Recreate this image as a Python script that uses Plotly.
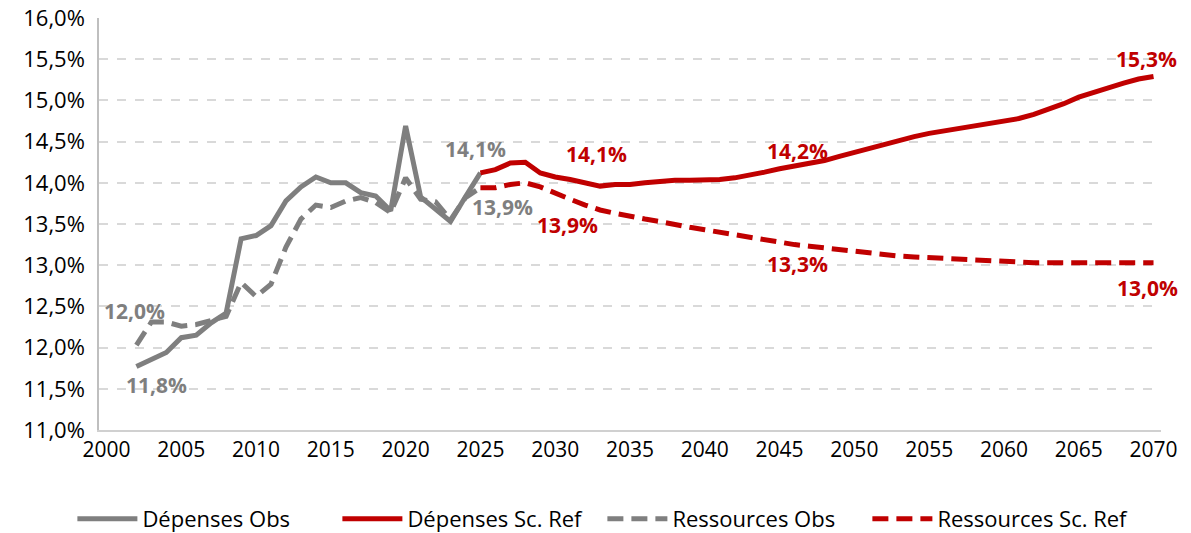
import plotly.graph_objects as go

# ---- data ----
years_obs = list(range(2002, 2026))
depenses_obs = [11.77, 11.86, 11.94, 12.12, 12.15, 12.30, 12.42, 13.32, 13.36, 13.48,
                13.78, 13.95, 14.07, 14.00, 14.00, 13.88, 13.84, 13.66, 14.69, 13.83,
                13.67, 13.53, 13.83, 14.12]
ressources_obs = [12.03, 12.31, 12.31, 12.26, 12.28, 12.33, 12.38, 12.79, 12.62, 12.77,
                  13.22, 13.56, 13.73, 13.70, 13.78, 13.82, 13.76, 13.64, 14.06, 13.80,
                  13.77, 13.55, 13.82, 13.94]

years_proj = list(range(2025, 2071))
depenses_ref = [14.12, 14.16, 14.24, 14.25, 14.12, 14.07, 14.04, 14.00, 13.96, 13.98,
                13.98, 14.00, 14.02, 14.03, 14.03, 14.03, 14.04, 14.06, 14.09, 14.13,
                14.17, 14.20, 14.23, 14.27, 14.32, 14.37, 14.42, 14.47, 14.52, 14.56,
                14.60, 14.63, 14.66, 14.68, 14.71, 14.74, 14.78, 14.83, 14.89, 14.96,
                15.04, 15.10, 15.16, 15.21, 15.26, 15.29]
ressources_ref = [13.94, 13.94, 13.98, 14.00, 13.95, 13.87, 13.80, 13.73, 13.67, 13.63,
                  13.59, 13.56, 13.53, 13.49, 13.46, 13.43, 13.40, 13.37, 13.33, 13.30,
                  13.27, 13.25, 13.23, 13.21, 13.18, 13.16, 13.14, 13.13, 13.11, 13.10,
                  13.09, 13.08, 13.07, 13.06, 13.05, 13.04, 13.04, 13.03, 13.03, 13.03,
                  13.03, 13.03, 13.03, 13.03, 13.03, 13.03]

series_names = ["Dépenses Obs", "Dépenses Sc. Ref", "Ressources Obs", "Ressources Sc. Ref"]
x_ticks = list(range(2000, 2071, 5))
y_ticks = [11.0, 11.5, 12.0, 12.5, 13.0, 13.5, 14.0, 14.5, 15.0, 15.5, 16.0]

# labelled points: (series, year, x offset px, y offset px)
labelled = [
    ("ro", 2002, -2, 34), ("do", 2002, 20, -18),
    ("do", 2025, -5, 24), ("ro", 2025, 22, -19),
    ("dr", 2030, 41, 23), ("rr", 2030, 12, -31),
    ("dr", 2045, 18, 18), ("rr", 2045, 18, -21),
    ("dr", 2070, -7, 18), ("rr", 2070, -6, -25),
]

GRAY = "#7F7F7F"
RED = "#C00000"
FONT = "Open Sans"
LW = 5

fig = go.Figure()
fig.add_trace(go.Scatter(x=years_obs, y=depenses_obs, name=series_names[0], mode="lines",
                         line=dict(color=GRAY, width=LW)))
fig.add_trace(go.Scatter(x=years_proj, y=depenses_ref, name=series_names[1], mode="lines",
                         line=dict(color=RED, width=LW)))
fig.add_trace(go.Scatter(x=years_obs, y=ressources_obs, name=series_names[2], mode="lines",
                         line=dict(color=GRAY, width=LW, dash="16px,8px")))
fig.add_trace(go.Scatter(x=years_proj, y=ressources_ref, name=series_names[3], mode="lines",
                         line=dict(color=RED, width=LW, dash="16px,8px")))

lookup = {
    "do": (years_obs, depenses_obs, GRAY),
    "ro": (years_obs, ressources_obs, GRAY),
    "dr": (years_proj, depenses_ref, RED),
    "rr": (years_proj, ressources_ref, RED),
}
for key, yr, dx, dy in labelled:
    xs, ys, col = lookup[key]
    v = ys[xs.index(yr)]
    txt = f"{v:.1f}".replace(".", ",") + "%"
    fig.add_annotation(x=yr, y=v, text=txt, showarrow=False, xshift=dx, yshift=dy,
                       font=dict(family=FONT, size=21, color=col, weight="bold"),
                       xanchor="center", yanchor="middle")

fig.update_layout(
    width=1191, height=533,
    margin=dict(l=99, r=30, t=18, b=103, autoexpand=False),
    plot_bgcolor="white", paper_bgcolor="white",
    separators=", ",
    font=dict(family=FONT, size=21, color="#000000"),
    showlegend=True,
    legend=dict(orientation="h", x=0.474, xanchor="center", y=-0.216, yanchor="middle",
                font=dict(family=FONT, size=22, color="#000000"), itemwidth=60,
                entrywidth=190, bgcolor="rgba(0,0,0,0)"),
)
fig.update_xaxes(range=[1999.5, 2070.5], tickmode="array", tickvals=x_ticks,
                 ticktext=[str(t) for t in x_ticks], showgrid=False, automargin=False,
                 showline=True, linecolor="#D0D0D0", linewidth=1.5, ticks="", ticklen=0,
                 tickfont=dict(family=FONT, size=21, color="#000000"), zeroline=False,
                 ticklabelstandoff=0)
fig.update_yaxes(range=[11, 16], tickmode="array", tickvals=y_ticks, automargin=False,
                 ticktext=[f"{t:.1f}".replace(".", ",") + "%" for t in y_ticks],
                 showgrid=True, gridcolor="#D9D9D9", griddash="dash", gridwidth=1.5,
                 showline=True, linecolor="#BFBFBF", linewidth=1.5, ticks="", ticklen=0,
                 tickfont=dict(family=FONT, size=22, color="#000000"), zeroline=False,
                 ticklabelstandoff=8)

fig.write_html("out.html", config={"displayModeBar": False},
               post_script="document.body.style.margin='0px';document.body.style.overflow='hidden';")
